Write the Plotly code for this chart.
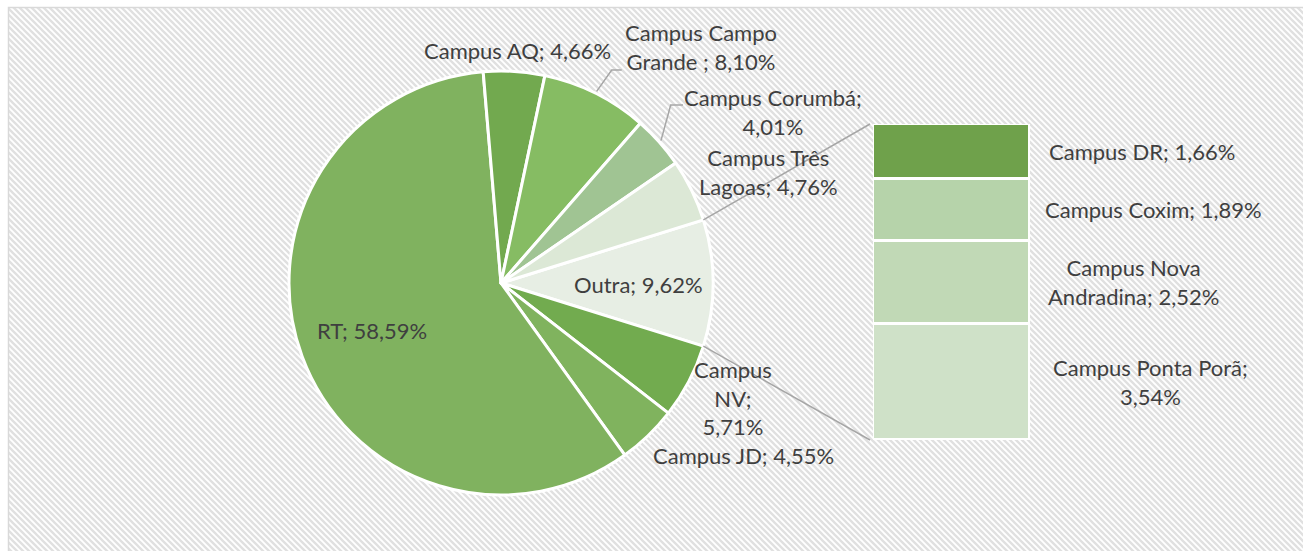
import base64
import math

import plotly.graph_objects as go

W, H = 1303, 551

# Pie slices, clockwise starting with the "Outra" slice (centred at 3 o'clock)
pie_labels = [
    "Outra", "Campus NV", "Campus JD", "RT", "Campus AQ",
    "Campus Campo Grande ", "Campus Corumbá", "Campus Três Lagoas",
]
pie_values = [9.62, 5.71, 4.55, 58.59, 4.66, 8.10, 4.01, 4.76]

# Breakdown of "Outra", top to bottom
bar_labels = ["Campus DR", "Campus Coxim", "Campus Nova Andradina", "Campus Ponta Porã"]
bar_values = [1.66, 1.89, 2.52, 3.54]

pie_colors = ["#e7eee4", "#72ab4f", "#80b35e", "#80b25f",
              "#72a94f", "#86bc63", "#a0c493", "#dce8d6"]
bar_colors = ["#6fa14b", "#b6d3aa", "#c1d9b6", "#cfe1c8"]

# how each label wraps, like the original data labels
label_fmt = {
    "Outra": "Outra; {p}",
    "Campus NV": "Campus<br>NV;<br>{p}",
    "Campus JD": "Campus JD; {p}",
    "RT": "RT; {p}",
    "Campus AQ": "Campus AQ; {p}",
    "Campus Campo Grande ": "Campus Campo<br>Grande ; {p}",
    "Campus Corumbá": "Campus Corumbá;<br>{p}",
    "Campus Três Lagoas": "Campus Três<br>Lagoas; {p}",
    "Campus DR": "Campus DR; {p}",
    "Campus Coxim": "Campus Coxim; {p}",
    "Campus Nova Andradina": "Campus Nova<br>Andradina; {p}",
    "Campus Ponta Porã": "Campus Ponta Porã;<br>{p}",
}
# label centres in pixels
pie_label_px = {
    "Outra": (638, 284), "Campus NV": (733, 398), "Campus JD": (743, 455),
    "RT": (372, 330), "Campus AQ": (517, 50), "Campus Campo Grande ": (701, 47),
    "Campus Corumbá": (773, 112), "Campus Três Lagoas": (768, 172),
}
bar_label_x = {"Campus DR": 1142, "Campus Coxim": 1153,
               "Campus Nova Andradina": 1133, "Campus Ponta Porã": 1150}


def pct(v):
    return f"{v:.2f}".replace(".", ",") + "%"


FONT = dict(family="Lato", size=22, color="#3f3f3f")

# geometry (pixels)
pie_box = (289, 71, 713, 495)      # left, top, right, bottom
bar_box = (873, 124, 1030, 440)
cx = (pie_box[0] + pie_box[2]) / 2
cy = (pie_box[1] + pie_box[3]) / 2
r = (pie_box[2] - pie_box[0]) / 2

total = sum(pie_values)
rotation = 90 - pie_values[0] / total * 180


def edge_point(angle_deg, k=1.0):
    a = math.radians(angle_deg)
    return cx + k * r * math.sin(a), cy - k * r * math.cos(a)


def px(x, y):
    return x / W, 1 - y / H


fig = go.Figure()

fig.add_trace(
    go.Pie(
        labels=pie_labels,
        values=pie_values,
        sort=False,
        direction="clockwise",
        rotation=rotation,
        marker=dict(colors=pie_colors, line=dict(color="white", width=3)),
        textinfo="none",
        hoverinfo="label+value",
        domain=dict(x=[pie_box[0] / W, pie_box[2] / W],
                    y=[1 - pie_box[3] / H, 1 - pie_box[1] / H]),
        showlegend=False,
    )
)

# stacked bar, bottom segment first
base = 0
bar_mid = {}
for lab, val, col in reversed(list(zip(bar_labels, bar_values, bar_colors))):
    fig.add_trace(
        go.Bar(
            x=[0], y=[val], width=1, name=lab,
            marker=dict(color=col, line=dict(color="white", width=3)),
            showlegend=False,
        )
    )
    bar_mid[lab] = base + val / 2
    base += val

annotations = []
for lab, val in zip(pie_labels, pie_values):
    x, y = px(*pie_label_px[lab])
    annotations.append(dict(x=x, y=y, xref="paper", yref="paper",
                            xanchor="center", yanchor="middle",
                            text=label_fmt[lab].format(p=pct(val)),
                            showarrow=False, font=FONT, align="center"))
for lab, val in zip(bar_labels, bar_values):
    annotations.append(dict(x=bar_label_x[lab] / W, y=bar_mid[lab], xref="paper", yref="y",
                            xanchor="center", yanchor="middle",
                            text=label_fmt[lab].format(p=pct(val)),
                            showarrow=False, font=FONT, align="center"))

# connector lines from the "Outra" slice to the bar
a0 = rotation
a1 = rotation + pie_values[0] / total * 360
shapes = []
for ang, by in ((a0, bar_box[1]), (a1, bar_box[3])):
    ex, ey = edge_point(ang)
    x0, y0 = px(ex, ey)
    x1, y1 = px(bar_box[0] - 3, by)
    shapes.append(dict(type="line", xref="paper", yref="paper",
                       x0=x0, y0=y0, x1=x1, y1=y1,
                       line=dict(color="#a6a6a6", width=1.5)))

# leader lines for two outside labels
cum = 0
mid_angle = {}
for lab, val in zip(pie_labels, pie_values):
    mid_angle[lab] = rotation + (cum + val / 2) / total * 360
    cum += val
leaders = {"Campus Campo Grande ": [(611.7, 70), (621.7, 70)],
           "Campus Corumbá": [(670.7, 105), (683, 105)]}
for lab, pts in leaders.items():
    sx, sy = edge_point(mid_angle[lab], 1.01)
    path = f"M {sx / W},{1 - sy / H}"
    for x, y in pts:
        path += f" L {x / W},{1 - y / H}"
    shapes.append(dict(type="path", xref="paper", yref="paper", path=path,
                       line=dict(color="#a6a6a6", width=1.5)))

# hatched chart-area background
svg = f"""<svg xmlns='http://www.w3.org/2000/svg' width='{W}' height='{H}' viewBox='0 0 {W} {H}'>
<defs><pattern id='p' width='6' height='6' patternUnits='userSpaceOnUse'>
<rect width='6' height='6' fill='white'/>
<path d='M-1,-1 L7,7 M-1,5 L1,7 M5,-1 L7,1' stroke='#e0e0e0' stroke-width='2.3'/>
</pattern></defs>
<rect x='8.5' y='7.5' width='{W}' height='{H}' fill='url(#p)' stroke='#d9d9d9' stroke-width='1.5'/>
</svg>"""
src = "data:image/svg+xml;base64," + base64.b64encode(svg.encode()).decode()

fig.update_layout(
    width=W, height=H,
    margin=dict(l=0, r=0, t=0, b=0),
    paper_bgcolor="white",
    plot_bgcolor="rgba(0,0,0,0)",
    barmode="stack",
    bargap=0,
    xaxis=dict(domain=[bar_box[0] / W, bar_box[2] / W], range=[-0.5, 0.5], visible=False),
    yaxis=dict(domain=[1 - bar_box[3] / H, 1 - bar_box[1] / H], range=[0, sum(bar_values)],
               visible=False),
    annotations=annotations,
    shapes=shapes,
    images=[dict(source=src, xref="paper", yref="paper", x=0, y=1, sizex=1, sizey=1,
                 xanchor="left", yanchor="top", sizing="stretch", layer="below")],
    showlegend=False,
)

# page body has a default 8px margin; drop it so the figure fills the window
fig.write_html("out.html", config={"displayModeBar": False},
               post_script="document.body.style.margin='0';")
